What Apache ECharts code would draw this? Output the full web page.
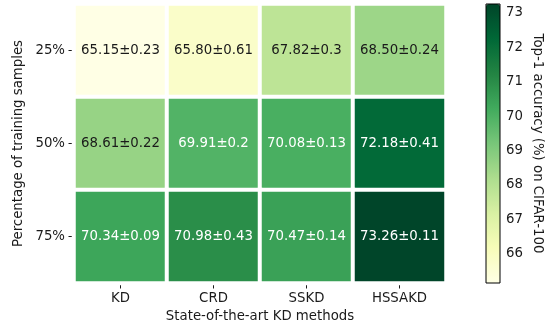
<!DOCTYPE html>
<html>
<head>
<meta charset="utf-8">
<script src="https://cdn.jsdelivr.net/npm/echarts@6/dist/echarts.min.js"></script>
<style>
  html, body { margin: 0; padding: 0; background: #fff; }
  #chart { width: 559px; height: 326px; }
</style>
</head>
<body>
<div id="chart"></div>
<script>
// Distillation methods compared (columns) and training-set fractions (rows)
const methods = ['KD', 'CRD', 'SSKD', 'HSSAKD'];
const fractions = ['25%', '50%', '75%'];

// Mean top-1 accuracy per row (fraction) and column (method)
const acc25 = [65.15, 65.80, 67.82, 68.50];
const acc50 = [68.61, 69.91, 70.08, 72.18];
const acc75 = [70.34, 70.98, 70.47, 73.26];

// Standard deviations as reported
const std25 = ['0.23', '0.61', '0.3', '0.24'];
const std50 = ['0.22', '0.2', '0.13', '0.41'];
const std75 = ['0.09', '0.43', '0.14', '0.11'];

// Colour-bar tick values
const cbarTicks = [66, 67, 68, 69, 70, 71, 72, 73];

const accRows = [acc25, acc50, acc75];
const stdRows = [std25, std50, std75];

// YlGn sequential palette
const ylgn = ['#ffffe5', '#f7fcb9', '#d9f0a3', '#addd8e', '#78c679',
              '#41ab5d', '#238443', '#006837', '#004529'];

const allVals = accRows.flat();
const vMin = Math.min(...allVals);
const vMax = Math.max(...allVals);

function hexToRgb(h) {
  return [parseInt(h.substr(1, 2), 16), parseInt(h.substr(3, 2), 16), parseInt(h.substr(5, 2), 16)];
}
function colourAt(v) {
  const t = Math.max(0, Math.min(1, (v - vMin) / (vMax - vMin))) * (ylgn.length - 1);
  const i = Math.min(Math.floor(t), ylgn.length - 2);
  const f = t - i;
  const a = hexToRgb(ylgn[i]), b = hexToRgb(ylgn[i + 1]);
  return a.map((c, k) => c + (b[k] - c) * f);
}
// Relative luminance, used to pick dark or light annotation text
function luminance(rgb) {
  const lin = rgb.map(c => {
    c /= 255;
    return c <= 0.03928 ? c / 12.92 : Math.pow((c + 0.055) / 1.055, 2.4);
  });
  return 0.2126 * lin[0] + 0.7152 * lin[1] + 0.0722 * lin[2];
}

const cells = [];
accRows.forEach((row, r) => {
  row.forEach((v, c) => {
    const dark = luminance(colourAt(v)) <= 0.408;
    cells.push({
      value: [c, r, v],
      label: {
        formatter: v.toFixed(2) + '±' + stdRows[r][c],
        color: dark ? '#ffffff' : '#1a1a1a'
      }
    });
  });
});

const FONT = 'DejaVu Sans';
const FS = 13.3;
const INK = '#1a1a1a';
const chart = echarts.init(document.getElementById('chart'), null, { renderer: 'canvas' });

chart.setOption({
  animation: false,
  backgroundColor: '#ffffff',
  textStyle: { fontFamily: FONT },
  grid: [
    { left: 74, top: 4, width: 372, height: 279, outerBoundsMode: 'none', containLabel: false },
    { left: 486, top: 4, width: 14, height: 279, show: true, z: 10, outerBoundsMode: 'none', containLabel: false,
      borderColor: '#000', borderWidth: 1, backgroundColor: 'transparent' }
  ],
  xAxis: [
    {
      gridIndex: 0, type: 'category', data: methods,
      axisLine: { show: false },
      axisTick: { show: true, alignWithLabel: true, length: 5.5, lineStyle: { color: INK, width: 1 } },
      axisLabel: { color: INK, fontSize: FS, fontFamily: FONT, margin: 9 },
      splitLine: { show: false },
      name: 'State-of-the-art KD methods', nameLocation: 'middle', nameGap: 27,
      nameTextStyle: { color: INK, fontSize: FS, fontFamily: FONT }
    },
    { gridIndex: 1, type: 'value', show: false, min: 0, max: 1 }
  ],
  yAxis: [
    {
      gridIndex: 0, type: 'category', data: fractions, inverse: true,
      axisLine: { show: false },
      axisTick: { show: true, alignWithLabel: true, length: 5.5, lineStyle: { color: INK, width: 1 } },
      axisLabel: { color: INK, fontSize: FS, fontFamily: FONT, margin: 9 },
      splitLine: { show: false },
      name: 'Percentage of training samples', nameLocation: 'middle', nameGap: 46,
      nameRotate: 90,
      nameTextStyle: { color: INK, fontSize: FS, fontFamily: FONT }
    },
    {
      gridIndex: 1, type: 'value', position: 'right', min: vMin, max: vMax,
      axisLine: { show: false },
      axisTick: { show: true, length: 3.5, customValues: cbarTicks, lineStyle: { color: INK, width: 1 } },
      axisLabel: { show: true, customValues: cbarTicks, color: INK, fontSize: FS, fontFamily: FONT, margin: 6 },
      splitLine: { show: false },
      name: 'Top-1 accuracy (%) on CIFAR-100', nameLocation: 'middle', nameGap: 31,
      nameRotate: -90,
      nameTextStyle: { color: INK, fontSize: FS, fontFamily: FONT }
    }
  ],
  visualMap: {
    type: 'continuous', min: vMin, max: vMax, seriesIndex: 0,
    calculable: false, realtime: false, hoverLink: false,
    orient: 'vertical', left: 486, top: 4, padding: 0,
    itemWidth: 14, itemHeight: 279, text: null, showLabel: false,
    inRange: { color: ylgn }
  },
  series: [{
    type: 'heatmap', xAxisIndex: 0, yAxisIndex: 0,
    data: cells,
    itemStyle: { borderColor: '#ffffff', borderWidth: 4 },
    label: { show: true, fontSize: FS, fontFamily: FONT },
    emphasis: { disabled: true }
  }]
});
</script>
</body>
</html>
